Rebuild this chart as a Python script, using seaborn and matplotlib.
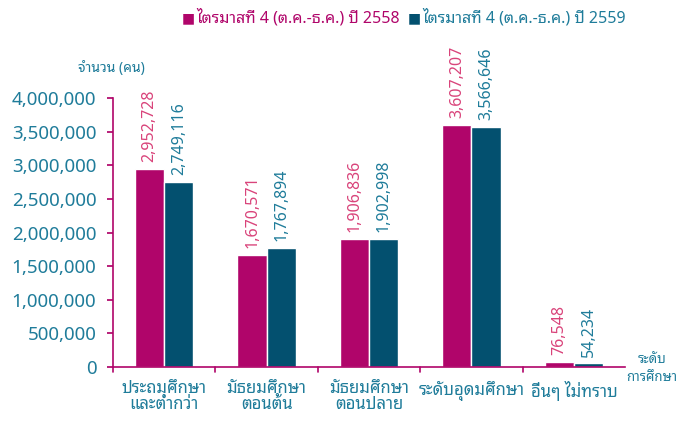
import matplotlib
matplotlib.use("Agg")
import matplotlib.pyplot as plt
import seaborn as sns
import pandas as pd

categories = ["ประถมศึกษา\nและต่ำกว่า", "มัธยมศึกษา\nตอนต้น", "มัธยมศึกษา\nตอนปลาย",
              "ระดับอุดมศึกษา", "อื่นๆ ไม่ทราบ"]
series_names = ["ไตรมาสที่ 4 (ต.ค.-ธ.ค.) ปี 2558", "ไตรมาสที่ 4 (ต.ค.-ธ.ค.) ปี 2559"]
values_2558 = [2952728, 1670571, 1906836, 3607207, 76548]
values_2559 = [2749116, 1767894, 1902998, 3566646, 54234]
yticks = [0, 500000, 1000000, 1500000, 2000000, 2500000, 3000000, 3500000, 4000000]
ylabel_text = "จำนวน (คน)"
xlabel_text = "ระดับ\nการศึกษา"

sns.set_theme(style="white")
FONT = ["Noto Sans Thai Looped", "DejaVu Sans"]
plt.rcParams["font.family"] = FONT

MAG = "#B0056A"
TEAL = "#03506F"
TXT = "#1F7C9A"
PINK = "#D9437A"

df = pd.DataFrame({
    "cat": categories * 2,
    "series": [series_names[0]] * 5 + [series_names[1]] * 5,
    "value": values_2558 + values_2559,
})

fig = plt.figure(figsize=(6.78, 4.21), dpi=100)
ax = fig.add_axes([0.1667, 0.128, 0.7553, 0.639])
sns.barplot(data=df, x="cat", y="value", hue="series", palette=[MAG, TEAL],
            width=0.57, saturation=1, ax=ax, legend=False)
ax.set_ylim(0, 4000000)
ax.set_xlim(-0.5, 4.5)
ax.set_yticks(yticks)
ax.set_yticklabels([f"{v:,}" for v in yticks], color=TXT, fontsize=13.5)
ax.set_xlabel("")
ax.set_ylabel("")
for s in ["top", "right"]:
    ax.spines[s].set_visible(False)
for s in ["left", "bottom"]:
    ax.spines[s].set_color(MAG)
    ax.spines[s].set_linewidth(1.2)
ax.tick_params(axis="y", left=True, length=4, color=MAG, pad=8)
ax.set_xticks([0, 1, 2, 3, 4])
ax.set_xticklabels(categories, color=TXT, fontsize=12, linespacing=1.0)
ax.tick_params(axis="x", bottom=False, pad=4)
for b in [-0.5, 0.5, 1.5, 2.5, 3.5]:
    ax.plot([b, b], [0, -0.02], transform=ax.get_xaxis_transform(), color=MAG,
            lw=1.2, clip_on=False)

for cont, col in zip(ax.containers, [PINK, TXT]):
    labs = [f"{int(v):,}" for v in cont.datavalues]
    ax.bar_label(cont, labels=labs, rotation=90, color=col, fontsize=11.5, padding=5)

# legend
fig.text(0.268, 0.957, "■", color=MAG, fontsize=10, va="center", family=["DejaVu Sans"])
fig.text(0.289, 0.957, series_names[0], color=MAG, fontsize=11.5, va="center")
fig.text(0.601, 0.957, "■", color=TEAL, fontsize=10, va="center", family=["DejaVu Sans"])
fig.text(0.623, 0.957, series_names[1], color=TXT, fontsize=11.5, va="center")

fig.text(0.115, 0.838, ylabel_text, color=TXT, fontsize=10, va="center")
fig.text(0.962, 0.125, xlabel_text, color=TXT, fontsize=9.5, va="center",
         ha="center", linespacing=1.55)

fig.savefig("out.png", dpi=100)
